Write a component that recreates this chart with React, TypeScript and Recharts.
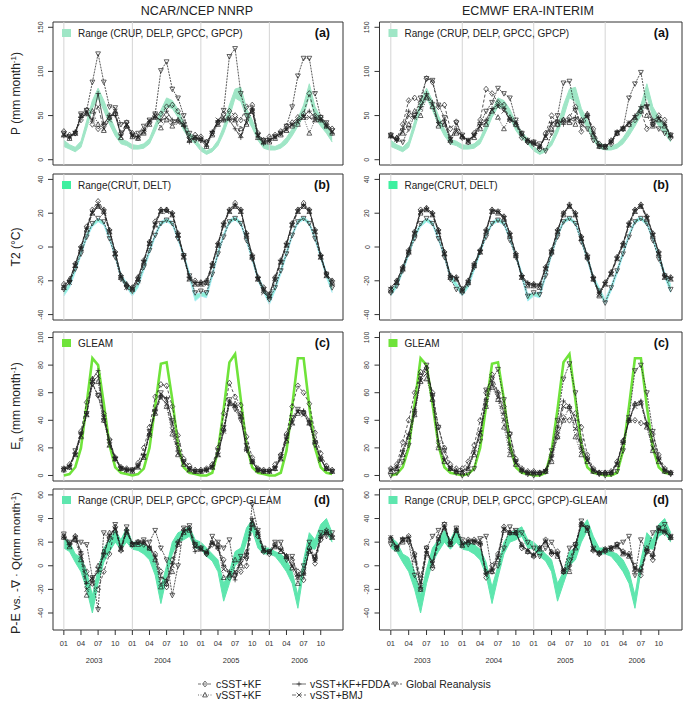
import React from "react";
import {
  ComposedChart,
  Line,
  Area,
  XAxis,
  YAxis,
  ReferenceLine,
  ReferenceArea,
} from "recharts";

const FONT = "'Liberation Sans', Arial, Helvetica, sans-serif";

const years = ["2003", "2004", "2005", "2006"];
const monthLabels = ["01", "04", "07", "10"];
const monthTicks = [0, 3, 6, 9, 12, 15, 18, 21, 24, 27, 30, 33, 36, 39, 42, 45];
const yearTicks = [5.3, 17.3, 29.3, 41.3];
const yearStarts = [0, 12, 24, 36];

// observations (same in both columns)
const P_LO = [15, 12, 9, 14, 35, 58, 70, 56, 40, 27, 18, 16, 12, 12, 13, 18, 32, 48, 60, 58, 48, 33, 24, 18, 10, 6, 9, 16, 30, 48, 70, 66, 48, 36, 22, 13, 11, 11, 13, 18, 27, 38, 50, 72, 48, 38, 30, 20];
const P_HI = [22, 17, 14, 21, 44, 67, 81, 67, 50, 35, 23, 21, 17, 16, 18, 24, 40, 56, 70, 67, 57, 42, 31, 24, 15, 10, 13, 22, 38, 62, 80, 82, 58, 45, 29, 19, 16, 15, 18, 25, 35, 47, 62, 86, 60, 48, 40, 28];
const T_LO = [-29, -24, -15, -5, 5, 12, 15, 13, 4, -6, -19, -24, -29, -24, -14, -4, 6, 13, 15, 13, 4, -6, -18, -32, -29, -30, -18, -5, 6, 14, 16, 13, 3, -8, -20, -27, -34, -26, -16, -5, 6, 14, 16, 13, 4, -7, -18, -27];
const T_HI = [-26, -21, -12, -2, 8, 14, 17, 15, 6, -4, -16, -21, -26, -21, -11, -1, 8, 15, 17, 15, 6, -4, -15, -28, -27, -27, -15, -2, 8, 16, 18, 15, 5, -5, -17, -24, -31, -23, -13, -2, 8, 16, 18, 15, 6, -4, -15, -22];
const GLEAM = [0, 1, 6, 20, 52, 85, 80, 52, 22, 6, 2, 1, 0, 1, 5, 20, 50, 81, 82, 55, 22, 6, 2, 1, 0, 0, 2, 18, 48, 82, 88, 55, 22, 6, 2, 1, 0, 0, 2, 18, 50, 85, 85, 50, 20, 6, 2, 1];
const PE_LO = [15, 12, 3, -5, -20, -40, -15, 3, 12, 20, 14, 20, 14, 13, 10, 5, -8, -32, -10, 10, 20, 22, 25, 15, 14, 8, 4, -5, -30, -15, 0, 5, 20, 30, 15, 10, 10, 8, 2, -5, -15, -36, -5, 15, 14, 25, 28, 20];
const PE_HI = [24, 20, 10, 7, -5, -25, -3, 15, 22, 30, 22, 32, 20, 20, 18, 14, 3, -18, 0, 20, 28, 30, 33, 22, 20, 15, 10, 5, -15, -5, 12, 15, 32, 39, 25, 15, 15, 12, 10, 5, -5, -25, 5, 28, 22, 35, 40, 28];

// NCAR/NCEP NNRP driven runs
const nnrpP_cSST = [32, 28, 30, 45, 56, 40, 35, 40, 50, 52, 30, 42, 30, 25, 32, 42, 50, 52, 60, 62, 55, 42, 25, 28, 26, 20, 30, 42, 52, 55, 50, 45, 60, 62, 30, 22, 26, 28, 32, 38, 42, 48, 52, 75, 50, 48, 40, 35];
const nnrpP_vKF = [28, 24, 30, 50, 52, 55, 40, 33, 48, 55, 25, 38, 26, 24, 30, 40, 48, 36, 45, 38, 45, 40, 22, 25, 24, 15, 28, 40, 45, 48, 45, 35, 40, 55, 25, 20, 20, 24, 28, 33, 38, 40, 48, 30, 45, 45, 38, 30];
const nnrpP_fdda = [27, 25, 32, 48, 52, 45, 75, 40, 50, 50, 28, 38, 27, 26, 33, 43, 48, 45, 55, 45, 45, 38, 20, 25, 22, 15, 32, 44, 45, 45, 35, 25, 45, 58, 26, 18, 22, 26, 30, 35, 40, 45, 50, 55, 48, 45, 38, 30];
const nnrpP_bmj = [28, 26, 30, 50, 55, 45, 60, 35, 45, 55, 26, 40, 28, 25, 32, 44, 50, 44, 48, 42, 42, 40, 22, 26, 23, 18, 30, 45, 48, 47, 45, 28, 42, 58, 28, 20, 22, 26, 30, 34, 40, 43, 48, 48, 45, 46, 38, 32];
const nnrpP_glob = [30, 26, 30, 52, 56, 88, 120, 88, 60, 59, 40, 42, 28, 30, 38, 45, 52, 101, 111, 80, 70, 50, 30, 22, 22, 20, 30, 42, 56, 117, 126, 75, 50, 55, 28, 22, 22, 26, 30, 38, 60, 95, 115, 115, 75, 48, 42, 33];

const nnrpT_cSST = [-22, -20, -10, 0, 12, 22, 27, 22, 10, -3, -17, -23, -24, -18, -8, 3, 15, 22, 22, 20, 8, -5, -18, -20, -21, -20, -10, 2, 14, 22, 26, 22, 8, -5, -18, -24, -28, -18, -8, 2, 14, 22, 26, 22, 10, -5, -16, -20];
const nnrpT_vKF = [-24, -19, -11, -1, 10, 20, 24, 21, 9, -4, -18, -22, -25, -19, -9, 2, 13, 21, 22, 19, 7, -6, -19, -22, -22, -21, -11, 1, 13, 21, 24, 21, 7, -6, -19, -26, -29, -19, -9, 1, 13, 21, 24, 21, 9, -6, -17, -21];
const nnrpT_fdda = [-23, -20, -10, 0, 11, 21, 25, 22, 10, -3, -17, -22, -24, -18, -8, 3, 14, 22, 22, 20, 8, -5, -18, -21, -21, -20, -10, 2, 14, 22, 25, 22, 8, -5, -18, -25, -28, -18, -8, 2, 14, 22, 25, 22, 10, -5, -16, -20];
const nnrpT_bmj = [-24, -21, -11, -1, 11, 20, 24, 20, 9, -4, -18, -24, -25, -20, -9, 2, 13, 21, 21, 19, 7, -6, -19, -22, -22, -22, -11, 1, 13, 21, 24, 21, 7, -6, -19, -27, -30, -20, -9, 1, 13, 21, 24, 21, 9, -6, -17, -22];
const nnrpT_glob = [-25, -21, -13, -4, 6, 14, 17, 15, 5, -6, -19, -24, -26, -21, -12, -2, 7, 14, 16, 14, 5, -5, -17, -27, -26, -27, -16, -4, 6, 15, 17, 14, 4, -7, -19, -25, -31, -24, -14, -4, 7, 15, 17, 14, 5, -6, -16, -24];

const nnrpE_cSST = [5, 8, 16, 32, 53, 67, 58, 45, 26, 13, 6, 5, 4, 9, 20, 35, 57, 66, 65, 50, 29, 12, 7, 4, 4, 5, 8, 20, 45, 67, 57, 51, 28, 13, 5, 4, 4, 8, 15, 30, 50, 65, 60, 52, 31, 16, 7, 4];
const nnrpE_vKF = [4, 6, 15, 28, 44, 70, 68, 40, 22, 12, 5, 4, 3, 6, 13, 30, 45, 58, 50, 30, 15, 8, 4, 3, 3, 4, 6, 15, 34, 52, 52, 45, 20, 10, 4, 3, 3, 5, 12, 25, 38, 45, 46, 38, 25, 12, 5, 3];
const nnrpE_fdda = [5, 7, 16, 30, 45, 70, 76, 43, 24, 13, 6, 4, 4, 7, 15, 30, 48, 58, 56, 38, 18, 10, 5, 3, 3, 4, 7, 16, 32, 54, 50, 42, 18, 10, 4, 3, 3, 6, 13, 27, 40, 47, 47, 40, 25, 12, 5, 3];
const nnrpE_bmj = [5, 6, 15, 29, 44, 68, 72, 42, 22, 12, 5, 4, 4, 6, 14, 29, 46, 56, 52, 33, 16, 9, 4, 3, 3, 4, 6, 15, 32, 52, 51, 44, 19, 10, 4, 3, 3, 5, 12, 26, 38, 46, 44, 38, 24, 11, 5, 3];
const nnrpE_glob = [4, 6, 18, 30, 45, 66, 58, 40, 25, 12, 5, 4, 4, 7, 14, 32, 46, 60, 55, 40, 22, 10, 5, 3, 3, 4, 6, 18, 35, 55, 48, 40, 22, 10, 4, 3, 3, 5, 14, 28, 42, 48, 45, 38, 22, 12, 5, 3];

const nnrpD_cSST = [25, 18, 25, 10, -5, -15, -20, -5, 10, 33, 13, 30, 18, 20, 18, 15, 10, -5, -18, 5, 20, 30, 32, 18, 15, 10, 18, 15, 5, -10, -8, -5, 0, 35, 25, 12, 10, 18, 15, 8, 5, -5, -12, 15, 2, 22, 28, 25];
const nnrpD_vKF = [24, 16, 22, 5, -25, -12, 0, 12, 28, 30, 14, 28, 18, 18, 20, 15, 5, -18, -15, -5, 18, 28, 30, 17, 14, 12, 20, 18, -10, -8, 5, 0, 12, 35, 28, 13, 12, 16, 12, 8, -2, -15, -5, 12, 8, 25, 30, 24];
const nnrpD_fdda = [24, 18, 25, 12, -15, -10, -5, 10, 25, 32, 15, 30, 19, 20, 20, 16, 8, -10, -12, 2, 20, 30, 31, 12, 15, 11, 20, 15, 0, -5, -12, 5, 10, 40, 28, 13, 12, 17, 14, 8, 0, -8, -8, 14, 5, 24, 28, 25];
const nnrpD_bmj = [25, 17, 24, 8, -20, -14, -3, 8, 26, 31, 14, 29, 18, 19, 19, 15, 7, -15, -14, 0, 19, 29, 31, 16, 14, 11, 19, 16, -3, -7, -5, 2, 8, 38, 27, 13, 11, 17, 13, 8, 0, -10, -6, 13, 6, 24, 29, 24];
const nnrpD_glob = [27, 20, 22, 20, 18, -10, -37, 28, 22, 35, 15, 33, 18, 20, 22, 20, 30, 15, 5, -25, 0, 32, 34, 18, 15, 10, 25, 20, 15, 22, -8, 8, 6, 52, 30, 15, 12, 20, 20, 5, 8, -10, 0, 20, 5, 28, 25, 28];

// ECMWF ERA-Interim driven runs
const eraP_cSST = [28, 24, 40, 67, 70, 65, 92, 88, 60, 62, 35, 43, 25, 20, 30, 45, 80, 75, 65, 62, 45, 40, 25, 20, 18, 12, 30, 50, 40, 45, 48, 60, 32, 50, 35, 18, 15, 18, 30, 35, 40, 45, 55, 35, 40, 50, 45, 25];
const eraP_vKF = [27, 25, 30, 40, 55, 50, 70, 60, 38, 40, 22, 30, 26, 20, 25, 35, 40, 55, 48, 35, 48, 40, 30, 22, 20, 15, 25, 35, 40, 45, 42, 40, 45, 52, 28, 15, 14, 22, 30, 35, 40, 48, 55, 50, 38, 45, 38, 28];
const eraP_fdda = [26, 22, 35, 55, 48, 60, 75, 65, 42, 45, 25, 35, 26, 22, 28, 40, 45, 58, 62, 58, 45, 42, 28, 22, 18, 14, 28, 42, 45, 40, 45, 48, 42, 50, 30, 16, 15, 20, 32, 36, 42, 50, 60, 62, 45, 48, 40, 26];
const eraP_bmj = [27, 23, 32, 50, 48, 58, 72, 62, 40, 42, 22, 32, 27, 21, 27, 38, 42, 56, 60, 55, 46, 42, 28, 22, 19, 14, 26, 40, 42, 44, 44, 45, 44, 50, 30, 16, 15, 21, 31, 35, 42, 48, 58, 60, 42, 46, 40, 27];
const eraP_glob = [28, 22, 20, 35, 50, 70, 92, 90, 62, 48, 20, 42, 28, 22, 28, 40, 55, 65, 81, 75, 70, 45, 30, 20, 20, 18, 10, 30, 50, 87, 89, 56, 40, 35, 22, 15, 15, 20, 30, 35, 70, 86, 99, 60, 40, 35, 30, 28];

const eraT_cSST = [-25, -20, -12, -2, 9, 22, 23, 20, 10, -3, -17, -18, -25, -20, -10, -2, 10, 22, 21, 18, 8, -4, -17, -22, -22, -23, -12, -2, 10, 20, 25, 20, 6, -5, -18, -28, -21, -15, -6, 2, 14, 22, 25, 18, 8, -3, -17, -18];
const eraT_vKF = [-26, -21, -13, -3, 8, 20, 22, 19, 9, -4, -18, -19, -26, -21, -11, -3, 9, 21, 20, 17, 7, -5, -18, -23, -23, -24, -13, -3, 9, 19, 24, 19, 5, -6, -19, -29, -22, -16, -7, 1, 13, 21, 24, 17, 7, -4, -18, -19];
const eraT_fdda = [-24, -20, -12, -2, 9, 21, 23, 20, 10, -3, -17, -18, -25, -20, -10, -2, 10, 22, 21, 18, 8, -4, -17, -21, -22, -22, -12, -2, 10, 20, 25, 20, 6, -5, -18, -27, -21, -15, -6, 2, 14, 22, 25, 18, 8, -3, -17, -18];
const eraT_bmj = [-25, -21, -13, -3, 8, 21, 22, 19, 9, -4, -18, -19, -26, -21, -11, -3, 9, 21, 21, 17, 7, -5, -18, -22, -23, -23, -13, -3, 9, 20, 24, 19, 5, -6, -19, -28, -22, -16, -7, 1, 13, 21, 24, 17, 7, -4, -18, -19];
const eraT_glob = [-27, -23, -14, -4, 5, 14, 17, 14, 5, -6, -19, -25, -27, -22, -12, -3, 6, 14, 16, 14, 4, -6, -18, -29, -27, -28, -17, -4, 6, 15, 17, 14, 3, -7, -19, -26, -33, -24, -14, -4, 6, 15, 17, 14, 4, -7, -17, -25];

const eraE_cSST = [5, 8, 24, 40, 60, 75, 78, 60, 35, 20, 8, 5, 5, 10, 22, 40, 60, 73, 60, 50, 30, 12, 5, 3, 3, 2, 3, 15, 28, 42, 40, 45, 35, 15, 5, 2, 2, 3, 10, 25, 40, 40, 38, 37, 30, 15, 5, 2];
const eraE_vKF = [3, 5, 15, 28, 44, 68, 70, 55, 20, 10, 5, 3, 2, 5, 15, 30, 50, 64, 55, 35, 15, 8, 4, 2, 2, 2, 3, 10, 28, 40, 50, 28, 15, 10, 3, 2, 2, 2, 8, 25, 40, 52, 53, 35, 18, 10, 3, 2];
const eraE_fdda = [4, 6, 18, 30, 48, 70, 78, 58, 25, 12, 5, 3, 3, 6, 18, 32, 55, 68, 60, 45, 22, 10, 4, 2, 2, 2, 4, 14, 35, 54, 50, 40, 20, 12, 4, 2, 2, 2, 9, 24, 40, 52, 54, 38, 25, 12, 4, 2];
const eraE_bmj = [4, 5, 16, 29, 46, 69, 74, 56, 22, 11, 5, 3, 3, 5, 16, 31, 52, 66, 57, 40, 18, 9, 4, 2, 2, 2, 3, 12, 32, 50, 48, 34, 18, 11, 4, 2, 2, 2, 8, 24, 40, 50, 52, 36, 20, 11, 4, 2];
const eraE_glob = [0, 2, 10, 22, 45, 72, 80, 58, 35, 18, 5, 2, 0, 1, 5, 25, 62, 70, 77, 55, 30, 10, 3, 1, 0, 1, 3, 18, 40, 70, 81, 60, 25, 12, 3, 1, 0, 1, 3, 18, 42, 76, 80, 60, 32, 12, 3, 1];

const eraD_cSST = [23, 15, 22, 25, 10, -10, 15, -2, 20, 35, 20, 30, 18, 22, 22, 18, -10, 0, 10, 33, 28, 28, 15, 12, 8, 15, 22, 10, 12, -5, 5, 18, 35, 32, 13, 10, 14, 15, 18, 12, 10, 0, -8, 12, 5, 32, 28, 24];
const eraD_vKF = [22, 14, 20, 22, 5, -20, 10, 0, 25, 32, 18, 30, 17, 20, 20, 20, -5, -5, 5, 30, 28, 28, 18, 12, 9, 14, 20, 12, 8, -5, -5, 15, 35, 30, 14, 11, 13, 14, 16, 10, 8, -3, -2, 15, 10, 30, 30, 24];
const eraD_fdda = [24, 16, 23, 24, 8, -15, 12, 3, 22, 33, 19, 31, 18, 21, 21, 19, -7, -3, 8, 32, 28, 28, 17, 13, 9, 15, 21, 11, 10, -4, 0, 17, 36, 31, 14, 11, 14, 15, 17, 11, 9, -2, -5, 13, 8, 31, 29, 24];
const eraD_bmj = [24, 15, 22, 24, 9, -18, 13, 2, 23, 32, 19, 30, 18, 21, 21, 19, -6, -4, 7, 31, 28, 28, 17, 13, 9, 15, 21, 11, 10, -4, -2, 16, 35, 31, 14, 11, 14, 15, 17, 11, 9, -3, -4, 14, 7, 31, 29, 24];
const eraD_glob = [18, 15, 22, 20, -8, -20, 15, 25, 30, 35, 18, 32, 22, 18, 20, 23, 25, -5, 0, 15, 33, 30, 28, 20, 15, 8, 15, 20, 10, -5, 15, 18, 38, 32, 15, 10, 12, 15, 18, 20, 25, -8, 22, 12, 28, 32, 35, 25];

const SERIES = [
  { key: "cSST", name: "cSST+KF", dash: "3 2", marker: "diamond" },
  { key: "vKF", name: "vSST+KF", dash: "1 1.5", marker: "triUp" },
  { key: "fdda", name: "vSST+KF+FDDA", dash: undefined, marker: "plus" },
  { key: "bmj", name: "vSST+BMJ", dash: "4 2", marker: "cross" },
  { key: "glob", name: "Global Reanalysis", dash: "2 1", marker: "triDown" },
];

const X_DOMAIN = [-1.9, 48.9];

const COLS = [
  { left: 0, width: 345, plotLeft: 53, plotRight: 343 },
  { left: 345, width: 340, plotLeft: 379.5, plotRight: 682 },
];

const ROWS = [
  { top: 22, bottom: 165, domain: [-6, 156], ticks: [0, 50, 100, 150] },
  { top: 174, bottom: 320, domain: [-43.2, 43.2], ticks: [-40, -20, 0, 20, 40] },
  { top: 332, bottom: 481, domain: [-4, 104], ticks: [0, 20, 40, 60, 80, 100] },
  { top: 489, bottom: 630, domain: [-54.4, 65], ticks: [-40, -20, 0, 20, 40, 60] },
];

const ROW_LEGEND = [
  { label: "Range (CRUP, DELP, GPCC, GPCP)", color: "#9fe6c6", letter: "(a)" },
  { label: "Range(CRUT, DELT)", color: "#3ef0a0", letter: "(b)" },
  { label: "GLEAM", color: "#6fe33a", letter: "(c)" },
  { label: "Range (CRUP, DELP, GPCC, GPCP)-GLEAM", color: "#5ee6ae", letter: "(d)" },
];

const PANELS = [
  { row: 0, col: 0, s: [nnrpP_cSST, nnrpP_vKF, nnrpP_fdda, nnrpP_bmj, nnrpP_glob], lo: P_LO, hi: P_HI, fill: "#9fe6c6", edge: "#9fe6c6" },
  { row: 0, col: 1, s: [eraP_cSST, eraP_vKF, eraP_fdda, eraP_bmj, eraP_glob], lo: P_LO, hi: P_HI, fill: "#9fe6c6", edge: "#9fe6c6" },
  { row: 1, col: 0, s: [nnrpT_cSST, nnrpT_vKF, nnrpT_fdda, nnrpT_bmj, nnrpT_glob], lo: T_LO, hi: T_HI, fill: "#8ff0d8", edge: "#a6eef6" },
  { row: 1, col: 1, s: [eraT_cSST, eraT_vKF, eraT_fdda, eraT_bmj, eraT_glob], lo: T_LO, hi: T_HI, fill: "#8ff0d8", edge: "#a6eef6" },
  { row: 2, col: 0, s: [nnrpE_cSST, nnrpE_vKF, nnrpE_fdda, nnrpE_bmj, nnrpE_glob], gleam: GLEAM },
  { row: 2, col: 1, s: [eraE_cSST, eraE_vKF, eraE_fdda, eraE_bmj, eraE_glob], gleam: GLEAM },
  { row: 3, col: 0, s: [nnrpD_cSST, nnrpD_vKF, nnrpD_fdda, nnrpD_bmj, nnrpD_glob], lo: PE_LO, hi: PE_HI, fill: "#5ee6ae", edge: "#5ee6ae" },
  { row: 3, col: 1, s: [eraD_cSST, eraD_vKF, eraD_fdda, eraD_bmj, eraD_glob], lo: PE_LO, hi: PE_HI, fill: "#5ee6ae", edge: "#5ee6ae" },
];

function Marker({ cx, cy, kind }: { cx: number; cy: number; kind: string }) {
  const r = 2.4;
  const st = { fill: "none", stroke: "#222", strokeWidth: 0.7 };
  if (kind === "diamond")
    return <polygon points={`${cx},${cy - r * 1.2} ${cx + r},${cy} ${cx},${cy + r * 1.2} ${cx - r},${cy}`} {...st} />;
  if (kind === "triUp")
    return <polygon points={`${cx},${cy - r * 1.1} ${cx + r},${cy + r * 0.8} ${cx - r},${cy + r * 0.8}`} {...st} />;
  if (kind === "triDown")
    return <polygon points={`${cx},${cy + r * 1.1} ${cx + r},${cy - r * 0.8} ${cx - r},${cy - r * 0.8}`} {...st} />;
  if (kind === "plus")
    return <path d={`M${cx - r},${cy}H${cx + r}M${cx},${cy - r}V${cy + r}`} {...st} />;
  return <path d={`M${cx - r},${cy - r}L${cx + r},${cy + r}M${cx - r},${cy + r}L${cx + r},${cy - r}`} {...st} />;
}

const makeDot = (kind: string) => (p: any) => {
  if (p.cx == null || p.cy == null) return <g key={p.index} />;
  return (
    <g key={p.index}>
      <Marker cx={p.cx} cy={p.cy} kind={kind} />
    </g>
  );
};

const YTick = (p: any) => {
  const tx = p.x - 3;
  return (
    <text x={tx} y={p.y} transform={`rotate(-90 ${tx} ${p.y})`} textAnchor="middle" fontSize={7} fill="#333" fontFamily={FONT}>
      {p.payload.value}
    </text>
  );
};

const MonthTick = (p: any) => (
  <text x={p.x} y={p.y + 9} textAnchor="middle" fontSize={7.5} fill="#333" fontFamily={FONT}>
    {monthLabels[(p.payload.value % 12) / 3]}
  </text>
);

const YearTick = (p: any) => (
  <text x={p.x} y={p.y + 17} textAnchor="middle" fontSize={7.5} fill="#333" fontFamily={FONT}>
    {years[Math.floor(p.payload.value / 12)]}
  </text>
);

function Panel({ cfg }: { cfg: any }) {
  const c = COLS[cfg.col];
  const r = ROWS[cfg.row];
  const isBottom = cfg.row === 3;
  const padTop = 6;
  const plotH = r.bottom - r.top;
  const yW = 25;
  const height = padTop + plotH + (isBottom ? 40 : 4);
  const data = cfg.s[0].map((_: number, i: number) => {
    const row: any = { i };
    SERIES.forEach((s, k) => (row[s.key] = cfg.s[k][i]));
    if (cfg.lo) row.band = [cfg.lo[i], cfg.hi[i]];
    if (cfg.gleam) row.gleam = cfg.gleam[i];
    return row;
  });
  return (
    <div style={{ position: "absolute", left: c.left, top: r.top - padTop }}>
      <ComposedChart
        width={c.width}
        height={height}
        data={data}
        margin={{ top: padTop, right: c.left + c.width - c.plotRight, bottom: isBottom ? 0 : 4, left: c.plotLeft - c.left - yW }}
      >
        <XAxis
          dataKey="i"
          type="number"
          domain={X_DOMAIN}
          allowDataOverflow
          ticks={monthTicks}
          interval={0}
          hide={!isBottom}
          height={16}
          tickSize={5}
          tickLine={{ stroke: "#333" }}
          axisLine={false}
          tick={<MonthTick />}
        />
        {isBottom && (
          <XAxis
            xAxisId="yr"
            dataKey="i"
            type="number"
            domain={X_DOMAIN}
            allowDataOverflow
            ticks={yearTicks}
            interval={0}
            height={24}
            tickSize={0}
            tickMargin={0}
            tickLine={false}
            axisLine={false}
            tick={<YearTick />}
          />
        )}
        <YAxis
          type="number"
          domain={r.domain}
          allowDataOverflow
          ticks={r.ticks}
          interval={0}
          width={yW}
          tickSize={5}
          tickMargin={2}
          axisLine={false}
          tickLine={{ stroke: "#333" }}
          tick={<YTick />}
        />
        {yearStarts.map((x) => (
          <ReferenceLine key={x} x={x} stroke="#d4d4d4" strokeWidth={1} />
        ))}
        {cfg.lo && (
          <Area
            dataKey="band"
            type="linear"
            stroke={cfg.edge}
            strokeWidth={1}
            fill={cfg.fill}
            fillOpacity={1}
            dot={false}
            activeDot={false}
            isAnimationActive={false}
          />
        )}
        {cfg.gleam && (
          <Line
            dataKey="gleam"
            type="linear"
            stroke="#6fe33a"
            strokeWidth={2.6}
            dot={false}
            activeDot={false}
            isAnimationActive={false}
          />
        )}
        {SERIES.map((s) => (
          <Line
            key={s.key}
            dataKey={s.key}
            type="linear"
            stroke="#222"
            strokeWidth={0.75}
            strokeDasharray={s.dash}
            dot={makeDot(s.marker)}
            activeDot={false}
            isAnimationActive={false}
          />
        ))}
        <ReferenceArea
          x1={X_DOMAIN[0]}
          x2={X_DOMAIN[1]}
          y1={r.domain[0]}
          y2={r.domain[1]}
          fill="none"
          fillOpacity={0}
          stroke="#333"
          strokeWidth={1}
          ifOverflow="visible"
        />
      </ComposedChart>
    </div>
  );
}

function LegendKey({ x, y, dash, marker }: { x: number; y: number; dash?: string; marker: string }) {
  return (
    <g>
      <line x1={x} x2={x + 14} y1={y} y2={y} stroke="#333" strokeWidth={0.7} strokeDasharray={dash} />
      <Marker cx={x + 7} cy={y} kind={marker} />
    </g>
  );
}

const yTitles = [
  { cy: 93.5, parts: [["P (mm month", 0, 12], ["-1", -4, 8], [")", 4, 12]] },
  { cy: 247, parts: [["T2 (°C)", 0, 12]] },
  { cy: 406, parts: [["E", 0, 12], ["a", 3, 8], [" (mm month", -3, 12], ["-1", -4, 8], [")", 4, 12]] },
  { cy: 563, parts: [["P-E", 0, 12.5], [" vs. -∇ · Q(mm month", 0, 11.5], ["-1", -4, 8], [")", 4, 11.5]] },
];

const legendItems = [
  { x: 198, y: 684, tx: 216, k: 0 },
  { x: 198, y: 695, tx: 216, k: 1 },
  { x: 292, y: 684, tx: 310, k: 2 },
  { x: 292, y: 695, tx: 310, k: 3 },
  { x: 388, y: 684, tx: 406, k: 4 },
];

export default function App() {
  return (
    <div style={{ position: "absolute", left: 0, top: 0, width: 685, height: 702, background: "#fff", fontFamily: FONT }}>
      {PANELS.map((p, i) => (
        <Panel key={i} cfg={p} />
      ))}
      <svg width={685} height={702} style={{ position: "absolute", left: 0, top: 0, pointerEvents: "none" }} fontFamily={FONT}>
        <text x={197} y={14.5} textAnchor="middle" fontSize={12.5} fill="#222">NCAR/NCEP NNRP</text>
        <text x={528} y={14.5} textAnchor="middle" fontSize={12.5} fill="#222">ECMWF ERA-INTERIM</text>
        {yTitles.map((t, i) => (
          <text key={i} transform={`translate(20,${t.cy}) rotate(-90)`} textAnchor="middle" fill="#222">
            {t.parts.map((pt, j) => (
              <tspan key={j} dy={pt[1] as number} fontSize={pt[2] as number}>
                {pt[0] as string}
              </tspan>
            ))}
          </text>
        ))}
        {ROWS.map((r, ri) =>
          COLS.map((c, ci) => (
            <g key={`${ri}-${ci}`}>
              <rect x={c.plotLeft + 9} y={r.top + 7} width={9} height={8} fill={ROW_LEGEND[ri].color} />
              <text x={c.plotLeft + 25} y={r.top + 14.5} fontSize={10} fill="#222">{ROW_LEGEND[ri].label}</text>
              <text x={c.plotRight - 13} y={r.top + 15} fontSize={12.5} fontWeight="bold" textAnchor="end" fill="#111">
                {ROW_LEGEND[ri].letter}
              </text>
            </g>
          ))
        )}
        {legendItems.map((l) => (
          <g key={l.k}>
            <LegendKey x={l.x} y={l.y} dash={SERIES[l.k].dash} marker={SERIES[l.k].marker} />
            <text x={l.tx} y={l.y + 3.5} fontSize={10.5} fill="#222">{SERIES[l.k].name}</text>
          </g>
        ))}
      </svg>
    </div>
  );
}
